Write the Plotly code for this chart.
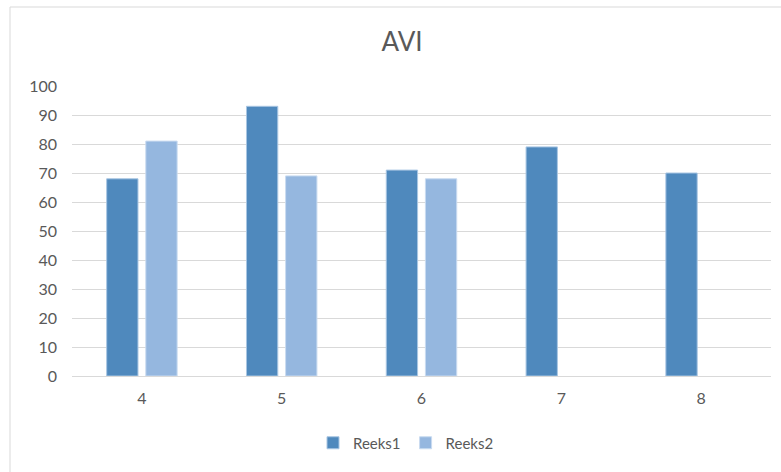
import plotly.graph_objects as go

categories = ["4", "5", "6", "7", "8"]
reeks1 = [68, 93, 71, 79, 70]
reeks2 = [81, 69, 68, None, None]
y_ticks = [0, 10, 20, 30, 40, 50, 60, 70, 80, 90, 100]

W, H = 781, 472
L, R, T, B = 72, 10, 86, 96
pw, ph = W - L - R, H - T - B

font_fam = "Lato, 'Liberation Sans', sans-serif"
grey = "#595959"

fig = go.Figure()
fig.add_trace(go.Bar(x=categories, y=reeks1, name="Reeks1",
                     marker=dict(color="#4F89BD", line=dict(color="#A9C6E3", width=1))))
fig.add_trace(go.Bar(x=categories, y=reeks2, name="Reeks2",
                     marker=dict(color="#95B7DF", line=dict(color="#C9DBF0", width=1))))

fig.update_layout(
    width=W, height=H,
    margin=dict(l=L, r=R, t=T, b=B),
    paper_bgcolor="white", plot_bgcolor="white",
    barmode="group", bargap=0.44, bargroupgap=0.2,
    title=dict(text="AVI", x=402 / W, xanchor="center", xref="container",
               y=1 - 42 / H, yanchor="middle", yref="container",
               font=dict(family=font_fam, size=26, color=grey)),
    legend=dict(orientation="h", x=(406 - L) / pw, xanchor="center",
                y=(H - B - 443) / ph, yanchor="middle",
                font=dict(family=font_fam, size=15, color=grey),
                itemwidth=30, traceorder="normal"),
    font=dict(family=font_fam, size=16, color=grey),
    showlegend=True,
)
fig.update_yaxes(range=[0, 100], tickvals=y_ticks, showgrid=True, gridcolor="#d9d9d9",
                 gridwidth=1, zeroline=False, showline=False, ticks="",
                 ticklabelstandoff=14, tickfont=dict(size=16, color=grey))
fig.update_xaxes(showline=True, linecolor="#d9d9d9", linewidth=1, ticks="",
                 ticklabelstandoff=8, tickfont=dict(size=16, color=grey))

# chart border (decorative)
fig.add_shape(type="rect", xref="paper", yref="paper",
              x0=(10 - L) / pw, x1=(W + 20 - L) / pw,
              y0=(H - B - (H + 20)) / ph, y1=(H - B - 7) / ph,
              line=dict(color="#d9d9d9", width=1), fillcolor="rgba(0,0,0,0)", layer="below")

fig.write_html("out.html", config={"displayModeBar": False},
               post_script="document.body.style.margin='0';document.body.style.overflow='hidden';")
